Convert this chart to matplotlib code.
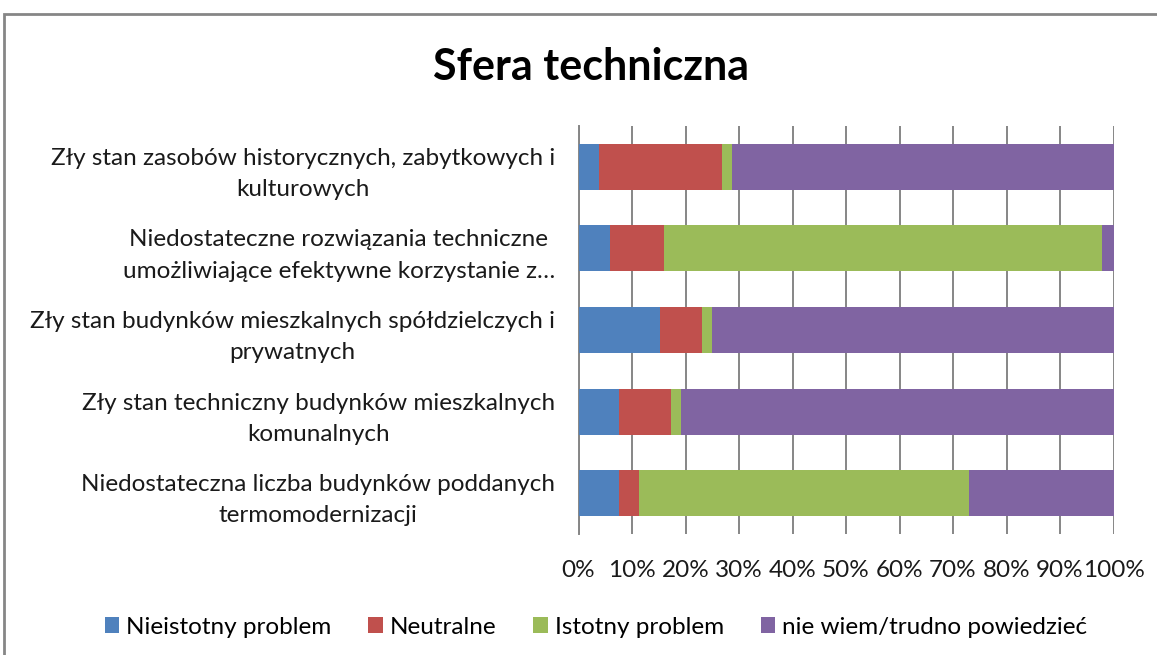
import matplotlib
matplotlib.use("Agg")
import matplotlib.pyplot as plt
from matplotlib.patches import Patch, Rectangle
import numpy as np

categories = [
    "Zły stan zasobów historycznych, zabytkowych i\nkulturowych",
    "Niedostateczne rozwiązania techniczne\numożliwiające efektywne korzystanie z…",
    "Zły stan budynków mieszkalnych spółdzielczych i\nprywatnych",
    "Zły stan techniczny budynków mieszkalnych\nkomunalnych",
    "Niedostateczna liczba budynków poddanych\ntermomodernizacji",
]
series_names = ["Nieistotny problem", "Neutralne", "Istotny problem", "nie wiem/trudno powiedzieć"]
nieistotny = [3.8, 5.9, 15.2, 7.6, 7.6]
neutralne = [23.0, 10.1, 7.8, 9.6, 3.8]
istotny = [1.9, 81.9, 1.9, 1.9, 61.6]
nie_wiem = [71.3, 2.1, 75.1, 80.9, 27.0]
colors = ["#4F81BD", "#C0504D", "#9BBB59", "#8064A2"]
xtick_labels = ["0%", "10%", "20%", "30%", "40%", "50%", "60%", "70%", "80%", "90%", "100%"]

FONT = "Lato"
FS = 17.5
fig = plt.figure(figsize=(11.57, 6.55), dpi=100)
fig.patches.append(Rectangle((4/1157, -0.1), 1.2, 1.1 - 14/655, transform=fig.transFigure,
                             fill=False, edgecolor="#868686", linewidth=2, zorder=0))
ax = fig.add_axes([578.5/1157, 1-534/655, 535/1157, 408/655])

data = [nieistotny, neutralne, istotny, nie_wiem]
y = np.arange(len(categories))
left = np.zeros(len(categories))
for vals, c, name in zip(data, colors, series_names):
    vals = np.array(vals, dtype=float)
    ax.barh(y, vals, left=left, height=0.565, color=c, label=name, zorder=3)
    left += vals

ax.set_xlim(0, 100)
ax.set_ylim(len(categories)-0.5, -0.5)
ax.set_xticks(np.arange(0, 101, 10))
ax.set_xticklabels(xtick_labels, fontsize=FS, family=FONT, color="#1a1a1a")
ax.set_yticks(y)
ax.set_yticklabels(categories, fontsize=FS, family=FONT, color="#1a1a1a",
                   multialignment="center", linespacing=1.6)
ax.tick_params(axis="both", length=0)
ax.tick_params(axis="y", pad=17)
ax.tick_params(axis="x", pad=18.5)
ax.grid(axis="x", color="#868686", linewidth=1.4, zorder=0)
ax.set_axisbelow(True)
for s in ["top", "right", "bottom"]:
    ax.spines[s].set_visible(False)
ax.spines["left"].set_color("#868686")
ax.spines["left"].set_linewidth(1.4)

fig.text(591/1157, 1-80/655, "Sfera techniczna", ha="center", va="baseline",
         fontsize=31, fontweight="bold", family=FONT)

handles = [Patch(facecolor=c, edgecolor="none", label=n) for c, n in zip(colors, series_names)]
fig.legend(handles=handles, loc="center", bbox_to_anchor=(596/1157, 1-627/655), ncol=4,
           frameon=False, prop={"family": FONT, "size": FS}, handlelength=0.6,
           handleheight=0.6, handletextpad=0.3, columnspacing=1.5)

fig.savefig("out.png", dpi=100)
